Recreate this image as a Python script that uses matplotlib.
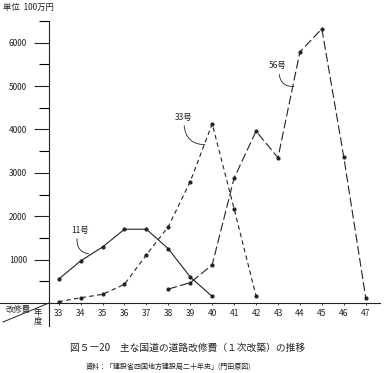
import matplotlib
matplotlib.use("Agg")
import matplotlib.pyplot as plt
from matplotlib.lines import Line2D

plt.rcParams['font.family'] = ['Noto Sans CJK JP', 'DejaVu Sans']

# data (unit: 1,000,000 yen), fiscal years Showa 33-47
years = list(range(33, 48))
r11_years = list(range(33, 41))
r11_vals = [550, 970, 1290, 1700, 1700, 1250, 600, 150]
r33_years = list(range(33, 43))
r33_vals = [30, 120, 200, 430, 1110, 1760, 2800, 4130, 2170, 160]
r56_years = list(range(38, 48))
r56_vals = [320, 470, 880, 2880, 3960, 3350, 5790, 6320, 3360, 120]

ink = "#222222"

fig = plt.figure(figsize=(3.84, 3.73), dpi=100)
ax = fig.add_axes([49 / 384, 1 - 303 / 373, (380 - 49) / 384, (303 - 21) / 373])

ax.plot(r11_years, r11_vals, color=ink, lw=0.8, marker='o', ms=2.0)
ax.plot(r33_years, r33_vals, color=ink, lw=0.8, ls=(0, (4, 3)), marker='o', ms=2.0)
ax.plot(r56_years, r56_vals, color=ink, lw=0.8, ls=(0, (8, 3)), marker='o', ms=2.0)

ax.set_xlim(32.56, 47.65)
ax.set_ylim(0, 6500)
ax.set_xticks(years)
ax.set_xticklabels([str(y) for y in years])
ax.set_yticks(range(1000, 7000, 1000))
ax.set_yticks(range(500, 7000, 1000), minor=True)
ax.tick_params(axis='y', which='major', direction='out', length=10.8, width=0.8,
               pad=5, labelsize=6, colors=ink)
ax.tick_params(axis='y', which='minor', direction='out', length=7.2, width=0.8)
ax.tick_params(axis='x', direction='out', length=1.5, width=0.6, pad=3,
               labelsize=6, colors=ink)
for s in ['top', 'right']:
    ax.spines[s].set_visible(False)
ax.spines['left'].set_visible(False)
ax.spines['bottom'].set_linewidth(0.8)
ax.spines['bottom'].set_color(ink)

# axis frame and corner cell, in figure pixels
def fx(px): return px / 384
def fy(py): return 1 - py / 373
fig.add_artist(Line2D([fx(49), fx(49)], [fy(21), fy(326)], color=ink, lw=0.8))
fig.add_artist(Line2D([fx(0), fx(49)], [fy(303), fy(303)], color=ink, lw=0.8))
fig.add_artist(Line2D([fx(3), fx(49)], [fy(322), fy(303)], color=ink, lw=0.7))
fig.text(fx(5), fy(309), "改修費", fontsize=6, va='center', ha='left', color=ink)
fig.text(fx(38), fy(317), "年\n度", fontsize=6, va='center', ha='center',
         linespacing=1.0, color=ink)
fig.text(fx(3), fy(7), "単位  100万円", fontsize=6, va='center', ha='left', color=ink)

# route labels with curved leaders
labels = [("11号", (33.97, 1570), (33.84, 1480), (34.38, 1130)),
          ("33号", (38.72, 4180), (38.72, 4090), (39.67, 3650)),
          ("56号", (43.0, 5360), (43.05, 5270), (43.73, 4990))]
for name, tpos, start, end in labels:
    ax.text(tpos[0], tpos[1], name, fontsize=6, ha='center', va='bottom', color=ink)
    ax.annotate('', xy=end, xytext=start,
                arrowprops=dict(arrowstyle='-', color=ink, lw=0.6,
                                connectionstyle='arc3,rad=0.45',
                                shrinkA=0, shrinkB=0))

fig.text(fx(188), fy(348), "図５―20　主な国道の道路改修費（１次改築）の推移",
         fontsize=7, ha='center', va='center', color=ink)
fig.text(fx(168), fy(367), "資料：「建設省四国地方建設局二十年史」(門田原図)",
         fontsize=5, ha='center', va='center', color=ink)

plt.savefig("out.png", dpi=100)
